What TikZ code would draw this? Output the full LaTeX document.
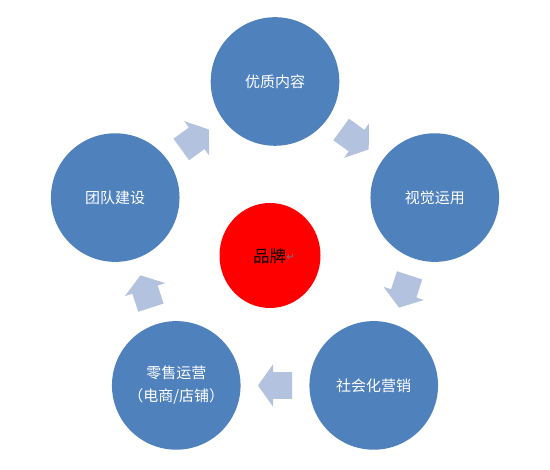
\documentclass[tikz,border=0pt]{standalone}
\usepackage{fontspec}
\usetikzlibrary{shapes.geometric}
\newfontfamily\cjk{Noto Sans CJK SC}
\newfontfamily\dejavu{DejaVu Sans}
\definecolor{circblue}{RGB}{79,129,189}
\definecolor{arrowblue}{RGB}{179,194,222}
\definecolor{markgray}{RGB}{110,122,140}
\begin{document}
\begin{tikzpicture}[x=1pt,y=1pt,
  stage/.style={circle, fill=circblue, minimum size=128.6pt, inner sep=0pt,
    text=white, align=center, font=\cjk\fontsize{15}{23}\selectfont},
  cycarrow/.style={fill=arrowblue}]
\useasboundingbox (0,0) rectangle (550,470);
\coordinate (c) at (275,220.5);
% stage circles
\node[stage] (s1) at ([shift={(90:168)}]c) {优质内容};
\node[stage] (s2) at ([shift={(18:168)}]c) {视觉运用};
\node[stage] (s3) at ([shift={(-54:168)}]c) {社会化营销};
\node[stage] (s4) at ([shift={(-126:168)}]c) {零售运营\\（电商/店铺）};
\node[stage] (s5) at ([shift={(162:168)}]c) {团队建设};
% cycle arrows
\foreach \a in {126,54,-18,-90,-162}{
  \fill[cycarrow, shift={(275,220.5)}, shift={(\a:136)}, rotate=\a-90]
    (-17,-13.3) -- (2,-13.3) -- (2,-21.2) -- (17,0) -- (2,21.2) -- (2,13.3) -- (-17,13.3) -- cycle;
}
% brand centre
\node[ellipse, fill=red, minimum width=101pt, minimum height=105pt, inner sep=0pt] (core) at (270,214.5) {};
\node[inner sep=0pt, font=\cjk\fontsize{16.5}{18}\selectfont, text=black] (brand) at (269.5,214) {品牌};
\node[inner sep=0pt, anchor=west, font=\dejavu\fontsize{10}{11}\selectfont, text=markgray] (mark) at ([xshift=0pt,yshift=-1.5pt]brand.east) {↵};
\end{tikzpicture}
\end{document}
